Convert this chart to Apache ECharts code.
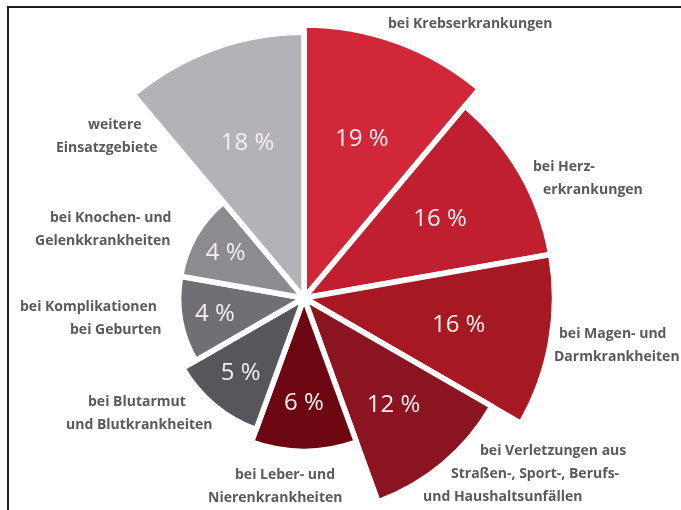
<!DOCTYPE html>
<html>
<head>
<meta charset="utf-8">
<script src="https://cdn.jsdelivr.net/npm/echarts@6/dist/echarts.min.js"></script>
<style>
  html, body { margin: 0; padding: 0; background: #fff; }
  #frame { position: absolute; left: 7px; top: 6px; width: 700px; height: 530px;
           border-left: 2px solid #1e1e1e; border-top: 2px solid #1e1e1e; }
  #chart { position: absolute; left: 0; top: 0; width: 681px; height: 510px; }
</style>
</head>
<body>
<div id="frame"></div>
<div id="chart"></div>
<script>
// clockwise from 12 o'clock
const categories = [
  ['bei Krebserkrankungen'],
  ['bei Herz-', 'erkrankungen'],
  ['bei Magen- und', 'Darmkrankheiten'],
  ['bei Verletzungen aus', 'Straßen-, Sport-, Berufs-', 'und Haushaltsunfällen'],
  ['bei Leber- und', 'Nierenkrankheiten'],
  ['bei Blutarmut', 'und Blutkrankheiten'],
  ['bei Komplikationen', 'bei Geburten'],
  ['bei Knochen- und', 'Gelenkkrankheiten'],
  ['weitere', 'Einsatzgebiete']
]
const shares = [19, 16, 16, 12, 6, 5, 4, 4, 18] // in %
const colors = ['#d12738', '#c01f30', '#a71922', '#8a1420', '#6c0711',
                '#57575b', '#707074', '#8c8c90', '#b3b3b7']

// where the outer name labels sit: left edge of every line, centre of first line
const lineLeft = [[388], [533, 543], [559, 554], [480, 451, 423], [235, 208],
                  [88, 66], [20, 70], [50, 35], [88, 56]]
const firstLineY = [24, 167, 334, 451, 475, 402, 307, 218, 125]
const LINE_H = 23

const chart = echarts.init(document.getElementById('chart'))

// equal angles, slice area proportional to the share -> radius ~ sqrt(share)
const radial = shares.map(v => Math.sqrt(v))

const mainData = radial.map((v, i) => {
  const x0 = Math.min(...lineLeft[i])
  const rich = {}
  lineLeft[i].forEach((l, j) => {
    rich['l' + j] = { padding: [0, 0, 0, l - x0], lineHeight: LINE_H }
  })
  return {
    name: categories[i].join(' '),
    value: v,
    itemStyle: { color: colors[i] },
    label: {
      formatter: categories[i].map((t, j) => '{l' + j + '|' + t + '}').join('\n'),
      rich: rich
    }
  }
})

const option = {
  animation: false,
  series: [
    {
      type: 'pie',
      roseType: 'area',
      center: [304, 298],
      radius: [0, 273],
      startAngle: 90,
      clockwise: true,
      silent: true,
      avoidLabelOverlap: false,
      itemStyle: { borderColor: '#fff', borderWidth: 5.5 },
      label: {
        show: true,
        position: 'outside',
        overflow: 'none',
        color: '#5a5a5a',
        fontFamily: 'Open Sans',
        fontSize: 14,
        fontWeight: 'bold',
        lineHeight: LINE_H
      },
      labelLine: { show: false },
      labelLayout: p => ({
        x: Math.min(...lineLeft[p.dataIndex]),
        y: firstLineY[p.dataIndex] - LINE_H / 2,
        align: 'left',
        verticalAlign: 'top'
      }),
      data: mainData
    },
    {
      // percent labels only
      type: 'pie',
      roseType: 'area',
      center: [304, 298],
      radius: [21, 311],
      startAngle: 90,
      clockwise: true,
      silent: true,
      avoidLabelOverlap: false,
      itemStyle: { color: 'rgba(0,0,0,0)', borderWidth: 0 },
      label: {
        show: true,
        position: 'inside',
        formatter: p => shares[p.dataIndex] + ' %',
        color: '#f5eeee',
        fontFamily: 'Open Sans',
        fontSize: 24
      },
      labelLine: { show: false },
      data: radial.map((v, i) => ({ name: categories[i].join(' '), value: v }))
    }
  ]
}
chart.setOption(option)
</script>
</body>
</html>
